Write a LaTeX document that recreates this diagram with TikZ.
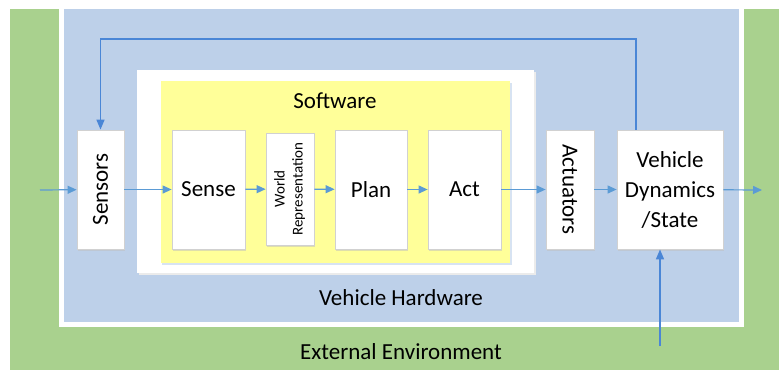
\documentclass[tikz,border=0pt]{standalone}
\usepackage{fontspec}
\setmainfont{Carlito}
\usetikzlibrary{arrows.meta,shadows,positioning}
\definecolor{envgreen}{HTML}{A9D18E}
\definecolor{hwblue}{HTML}{BDD0E9}
\definecolor{swyellow}{HTML}{FFFF99}
\definecolor{flowblue}{HTML}{5B9BD5}
\definecolor{loopblue}{HTML}{4A86D6}

\tikzset{
  blk/.style={draw=black!18, fill=white, line width=0.8pt, inner sep=0pt,
              font=\fontsize{23}{30}\selectfont,
              drop shadow={shadow xshift=1pt, shadow yshift=-2pt, fill=black!25, opacity=0.5}},
  flow/.style={flowblue, line width=1.2pt, -{Triangle[length=9pt,width=8pt]}},
  loopline/.style={loopblue, line width=1.6pt, -{Triangle[length=10pt,width=8pt]}},
  lbl/.style={font=\fontsize{23}{28}\selectfont, inner sep=0pt},
}

\begin{document}
\begin{tikzpicture}[x=1pt,y=-1pt]
 \useasboundingbox (0,0) rectangle (779,370);
 % layers: environment, hardware, software
 \fill[envgreen] (10,9) rectangle (779,370);
 \fill[white] (59,9) rectangle (744,327);
 \fill[hwblue] (64,9) rectangle (739,322);
 \fill[black!8] (139,72) rectangle (536,275);
 \fill[white] (137,70) rectangle (534,273);
 \fill[hwblue!60] (162,83) rectangle (512,265);
 \fill[swyellow] (161,81) rectangle (510,263);

 \node[lbl] (sw) at (335,101) {Software};
 \node[lbl] (hw) at (401,298) {Vehicle Hardware};
 \node[lbl] (env) at (401,352) {External Environment};

 % blocks
 \node[blk, minimum width=47pt, minimum height=119pt] (sensors) at (100.5,189.5) {\rotatebox{90}{Sensors}};
 \node[blk, minimum width=73pt, minimum height=119pt] (sense) at (208.5,189.5) {Sense};
 \node[blk, minimum width=48pt, minimum height=112pt] (world) at (290,189) {\rotatebox{90}{\fontsize{15}{18}\selectfont\begin{tabular}{@{}c@{}}World\\Representation\end{tabular}}};
 \node[blk, minimum width=72pt, minimum height=119pt] (plan) at (371,189.5) {Plan};
 \node[blk, minimum width=73pt, minimum height=119pt] (act) at (464.5,189.5) {Act};
 \node[blk, minimum width=48pt, minimum height=119pt] (actuators) at (570,189.5) {\rotatebox{-90}{Actuators}};
 \node[blk, minimum width=106pt, minimum height=119pt, align=center] (vds) at (670,189.5) {Vehicle\\Dynamics\\/State};

 % free ends
 \coordinate (in) at (40,190);
 \coordinate (out) at (762,190);
 \coordinate (fb) at (636,39);
 \coordinate (envin) at (660,346);

 % signal flow
 \draw[flow] (in) -- (sensors);
 \draw[flow] (sensors) -- (sense);
 \draw[flow] (sense) -- (world);
 \draw[flow] (world) -- (plan);
 \draw[flow] (plan) -- (act);
 \draw[flow] (act) -- (actuators);
 \draw[flow] (actuators) -- (vds);
 \draw[flow] (vds) -- (out);
 \draw[loopline] (vds.north -| fb) -- (fb) -| (sensors.north);
 \draw[loopline] (envin) -- (envin |- vds.south);
\end{tikzpicture}
\end{document}
